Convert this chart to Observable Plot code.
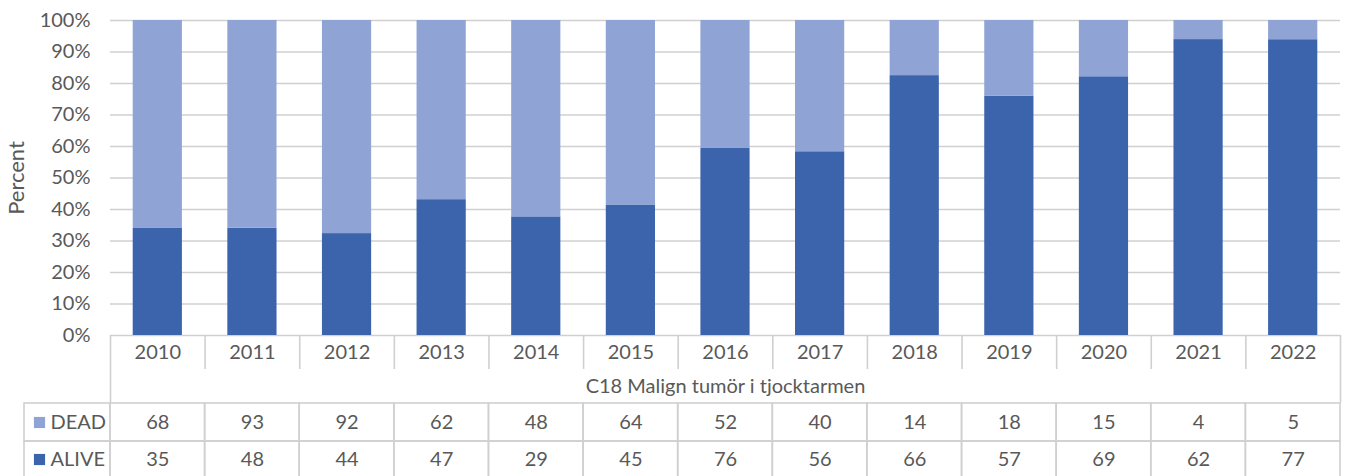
<!DOCTYPE html>
<html>
<head>
<meta charset="utf-8">
<script src="https://cdn.jsdelivr.net/npm/d3@7"></script>
<script src="https://cdn.jsdelivr.net/npm/@observablehq/plot@0.6"></script>
<style>
  html, body { margin: 0; padding: 0; background: #fff; }
  #chart { width: 1348px; height: 476px; overflow: hidden; }
  svg { font-family: Lato, "Open Sans", sans-serif; }
</style>
</head>
<body>
<div id="chart"></div>
<script>
// ---- data ----
const years = ["2010","2011","2012","2013","2014","2015","2016","2017","2018","2019","2020","2021","2022"];
const dead  = [68, 93, 92, 62, 48, 64, 52, 40, 14, 18, 15, 4, 5];
const alive = [35, 48, 44, 47, 29, 45, 76, 56, 66, 57, 69, 62, 77];
const seriesNames = ["ALIVE", "DEAD"];
const seriesColors = ["#3B64AD", "#8FA4D5"];
const categoryLabel = "C18 Malign tumör i tjocktarmen";
const yTicks = [0, 0.1, 0.2, 0.3, 0.4, 0.5, 0.6, 0.7, 0.8, 0.9, 1];

// ---- layout ----
const W = 1348, H = 476;
const mL = 110, mR = 8, mT = 20, plotBottom = 335;
const step = (W - mL - mR) / years.length;
const padIn = 0.48, padOut = 0.24;
const bw = step * (1 - padIn);
const cellInset = -(step - bw) / 2;
// convert a pixel row to the normalized y scale
const Y = px => (plotBottom - px) / (plotBottom - mT);
const firstCenter = mL + step / 2;

const txt = "#595959";
const border = "#d0d0d0";
const fs = 20;

const long = [];
years.forEach((yr, i) => {
  long.push({year: yr, status: "ALIVE", count: alive[i]});
  long.push({year: yr, status: "DEAD", count: dead[i]});
});
const tableRows = [
  {name: "DEAD", values: dead, color: seriesColors[1], top: 403, bot: 441, mid: 422},
  {name: "ALIVE", values: alive, color: seriesColors[0], top: 441, bot: 479, mid: 459}
];
const tableCells = tableRows.flatMap(r => years.map((yr, i) => ({year: yr, v: r.values[i], top: r.top, bot: r.bot, mid: r.mid})));

const plot = Plot.plot({
  width: W, height: H,
  marginLeft: mL, marginRight: mR, marginTop: mT, marginBottom: H - plotBottom,
  style: {fontFamily: "Lato, 'Open Sans', sans-serif", background: "white"},
  x: {type: "band", domain: years, paddingInner: padIn, paddingOuter: padOut, round: false, axis: null},
  y: {domain: [0, 1], axis: null},
  color: {domain: seriesNames, range: seriesColors},
  marks: [
    Plot.gridY(yTicks, {stroke: "#d0d0d0", strokeOpacity: 1, strokeWidth: 1.6}),
    Plot.barY(long, {x: "year", y: "count", fill: "status", offset: "normalize", order: seriesNames}),
    Plot.axisY(yTicks, {tickSize: 0, tickPadding: 20, tickFormat: d3.format(".0%"), fontSize: fs, fill: txt, label: null}),
    Plot.text(["Percent"], {y: 0.5, frameAnchor: "left", textAnchor: "middle", lineAnchor: "middle", dx: 16 - mL, rotate: -90,
      text: d => d, fontSize: 22, fill: txt}),
    // year row separators
    Plot.ruleX(years, {x: d => d, dx: -step / 2, y1: Y(plotBottom), y2: Y(369), stroke: border, strokeWidth: 1.6}),
    Plot.ruleX([years[years.length - 1]], {x: d => d, dx: step / 2, y1: Y(plotBottom), y2: Y(403), stroke: border, strokeWidth: 1.6}),
    Plot.ruleX([years[0]], {x: d => d, dx: -step / 2, y1: Y(369), y2: Y(403), stroke: border, strokeWidth: 1.6}),
    Plot.text(years, {x: d => d, y: Y(352), text: d => d, fontSize: fs, fill: txt}),
    Plot.text([categoryLabel], {y: Y(386), frameAnchor: "middle", text: d => d, fontSize: fs, fill: txt}),
    // data table cells
    Plot.rect(tableCells, {x: "year", y1: d => Y(d.top), y2: d => Y(d.bot), insetLeft: cellInset, insetRight: cellInset,
      fill: "none", stroke: border, strokeWidth: 1.6}),
    Plot.text(tableCells, {x: "year", y: d => Y(d.mid), text: d => String(d.v), fontSize: fs, fill: txt}),
    // legend column
    Plot.rect(tableRows, {x: () => years[0], y1: d => Y(d.top), y2: d => Y(d.bot),
      insetLeft: -(mL + step * padOut - 24), insetRight: step * (1 - padOut),
      fill: "none", stroke: border, strokeWidth: 1.6}),
    Plot.dot(tableRows, {x: () => years[0], y: d => Y(d.mid), dx: 39 - firstCenter, symbol: "square", r: 6.3,
      fill: d => d.color, stroke: null}),
    Plot.text(tableRows, {x: () => years[0], y: d => Y(d.mid), dx: 50 - firstCenter, text: "name", textAnchor: "start",
      fontSize: fs, fill: txt})
  ]
});
document.getElementById("chart").appendChild(plot);
</script>
</body>
</html>
